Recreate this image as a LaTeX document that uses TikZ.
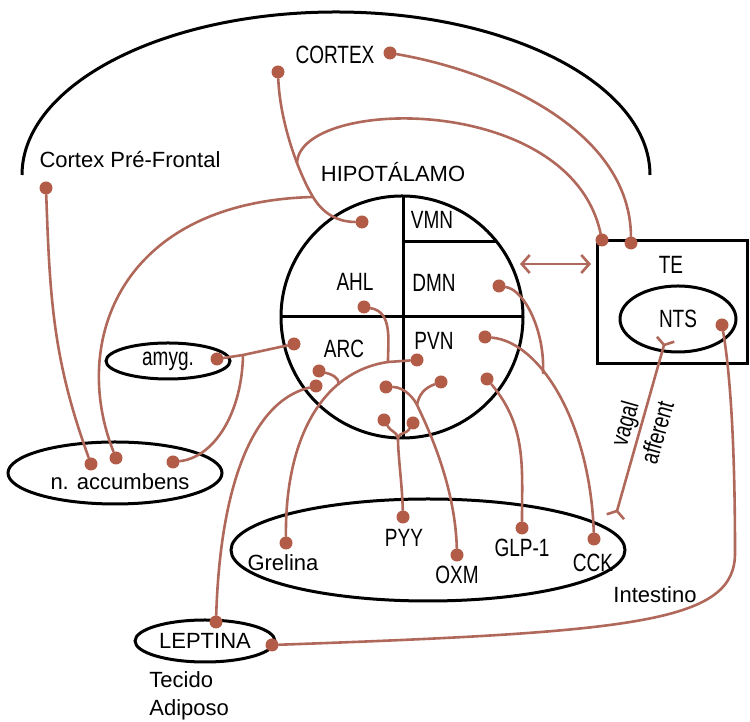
\documentclass[tikz,border=0pt]{standalone}
\usepackage{fontspec}
\setmainfont{Liberation Sans}
\newfontfamily\narrowsf{Liberation Sans}[FakeStretch=0.76]
\usetikzlibrary{shapes.geometric, arrows.meta}
\definecolor{nerve}{RGB}{176,104,90}
\definecolor{nervedot}{RGB}{178,92,72}
\tikzset{
  outline/.style={line width=1.5pt},
  fibre/.style={draw=nerve, line width=1.3pt, line cap=round},
  dot/.style={circle, fill=nervedot, inner sep=0pt, minimum size=6.5pt},
  organ/.style={ellipse, draw, line width=1.5pt, inner sep=0pt, font=\fontsize{11}{13}\selectfont},
  lbl/.style={inner sep=1pt, font=\fontsize{11}{13}\selectfont},
  caplbl/.style={inner sep=1pt, font=\fontsize{12.5}{14}\selectfont\narrowsf},
}
\begin{document}
\begin{tikzpicture}[x=0.5pt, y=0.5pt]
    \useasboundingbox (0,0) rectangle (750,722);

    % brain, hypothalamus and brainstem
    \draw[outline] (22,547) arc[start angle=180, end angle=0, x radius=314, y radius=163];
    \draw[outline] (402,405) circle[radius=121];
    \draw[outline] (403,526) -- (403,284);
    \draw[outline] (281,405) -- (523,405);
    \draw[outline] (403,480) -- (497,480);
    \draw[outline] (597,358) rectangle (747,481);

    \node[lbl] at (130,562) (pfctxt) {Cortex Pré-Frontal};
    \node[caplbl] at (335,667) (ctxtxt) {CORTEX};
    \node[lbl] at (393,550) (hypotxt) {HIPOTÁLAMO};
    \node[caplbl] at (432,502) (vmn) {VMN};
    \node[caplbl] at (355,440) (ahl) {AHL};
    \node[caplbl] at (434,439) (dmn) {DMN};
    \node[caplbl] at (344,373) (arc) {ARC};
    \node[caplbl] at (434,381) (pvn) {PVN};
    \node[caplbl] at (671,457) (te) {TE};

    \node[organ, minimum width=62pt, minimum height=18pt, font=\fontsize{12.5}{14}\selectfont\narrowsf] at (168,361) (amyg) {amyg.};
    \node[organ, minimum width=107pt, minimum height=31pt] at (115,249) (nacc) {};
    \node[lbl] at (120,240) (nacctxt) {n. accumbens};
    \node[organ, minimum width=58pt, minimum height=33pt, font=\fontsize{12.5}{14}\selectfont\narrowsf] at (678,403) (nts) {NTS};
    \node[organ, minimum width=197pt, minimum height=51pt] at (428,172) (intest) {};
    \node[lbl] at (655,127) (intesttxt) {Intestino};
    \node[organ, minimum width=70pt, minimum height=21pt] at (205,81) (lep) {LEPTINA};
    \node[lbl, align=left, anchor=west] at (147,26) (tecido) {Tecido\\[1pt]Adiposo};

    \node[lbl] at (283,159) (greltxt) {Grelina};
    \node[caplbl] at (404,184) (pyytxt) {PYY};
    \node[caplbl] at (457,147) (oxmtxt) {OXM};
    \node[caplbl] at (522,174) (glptxt) {GLP-1};
    \node[caplbl] at (593,159) (ccktxt) {CCK};

    % terminals
    \node[dot] at (46,534) (pfc) {};
    \node[dot] at (390,669) (ctxA) {};
    \node[dot] at (278,650) (ctxB) {};
    \node[dot] at (602,482) (te1) {};
    \node[dot] at (631,479) (te2) {};
    \node[dot] at (362,500) (ahlT) {};
    \node[dot] at (364,415) (ahlD) {};
    \node[dot] at (499,436) (dmnD) {};
    \node[dot] at (294,378) (arcL) {};
    \node[dot] at (319,351) (arcA) {};
    \node[dot] at (316,336) (arcB) {};
    \node[dot] at (417,362) (pvnC) {};
    \node[dot] at (485,385) (pvnR) {};
    \node[dot] at (386,335) (pvn1) {};
    \node[dot] at (441,340) (pvn2) {};
    \node[dot] at (487,343) (pvn3) {};
    \node[dot] at (384,302) (pvn4) {};
    \node[dot] at (413,299) (pvn5) {};
    \node[dot] at (217,363) (amyD) {};
    \node[dot] at (91,258) (nac1) {};
    \node[dot] at (116,264) (nac2) {};
    \node[dot] at (173,260) (nac3) {};
    \node[dot] at (722,397) (ntsD) {};
    \node[dot] at (216,100) (lepT) {};
    \node[dot] at (272,77) (lepR) {};
    \node[dot] at (286,179) (grel) {};
    \node[dot] at (403,205) (pyy) {};
    \node[dot] at (457,167) (oxm) {};
    \node[dot] at (522,194) (glp) {};
    \node[dot] at (594,183) (cck) {};

    \coordinate (jCtx) at (313,525);
    \coordinate (jTE) at (297,559);
    \coordinate (jAmy) at (243,367);
    \coordinate (jGrA) at (339,338);
    \coordinate (jGrB) at (388,360);
    \coordinate (jPyy) at (398,284);
    \coordinate (jOxm) at (417,317);
    \coordinate (jCck) at (543,349);
    \coordinate (jNts) at (735,170);
    \coordinate (arrL) at (520,458);
    \coordinate (arrR) at (591,458);
    \coordinate (vagB) at (615,204);
    \coordinate (vagT) at (666,384);

    % pathways
    \draw[fibre] (pfc) to[out=-88, in=110] (nac1);
    \draw[fibre] (ctxA) .. controls (500,650) and (630,590) .. (te2);
    \draw[fibre] (ctxB) .. controls (280,600) and (298,550) .. (jCtx) .. controls (325,505) and (342,500) .. (ahlT);
    \draw[fibre] (jTE) .. controls (300,625) and (570,630) .. (te1);
    \draw[fibre] (nac2) .. controls (70,380) and (120,520) .. (jCtx);
    \draw[fibre] (amyD) -- (jAmy) -- (arcL);
    \draw[fibre] (jAmy) .. controls (242,310) and (215,265) .. (nac3);
    \draw[fibre] (lepT) .. controls (220,230) and (250,320) .. (arcB);
    \draw[fibre] (grel) .. controls (285,280) and (320,350) .. (jGrB) -- (pvnC);
    \draw[fibre] (jGrA) to[out=95, in=-15] (arcA);
    \draw[fibre] (ahlD) to[out=-10, in=90] (jGrB);
    \draw[fibre] (pyy) .. controls (402,240) and (398,265) .. (jPyy);
    \draw[fibre] (jPyy) to[out=100, in=-60] (pvn4);
    \draw[fibre] (jPyy) to[out=80, in=-120] (pvn5);
    \draw[fibre] (pvn1) .. controls (405,335) and (415,322) .. (jOxm) .. controls (425,300) and (455,240) .. (oxm);
    \draw[fibre] (pvn2) to[out=-160, in=80] (jOxm);
    \draw[fibre] (pvn3) to[out=-50, in=90] (glp);
    \draw[fibre] (pvnR) .. controls (540,380) and (590,300) .. (cck);
    \draw[fibre] (dmnD) .. controls (525,432) and (545,390) .. (jCck);
    \draw[fibre] (lepR) .. controls (640,90) and (736,100) .. (jNts) .. controls (735,280) and (730,350) .. (ntsD);
    \draw[fibre, {Straight Barb[length=4pt, width=9pt]}-{Straight Barb[length=4pt, width=9pt]}] (arrL) -- (arrR);
    \draw[fibre, {Straight Barb[reversed, length=3pt, width=9pt]}-{Straight Barb[reversed, length=3pt, width=9pt]}] (vagB) -- node[midway, sloped, align=center, caplbl] {vagal\\[3pt]afferent} (vagT);
\end{tikzpicture}
\end{document}
